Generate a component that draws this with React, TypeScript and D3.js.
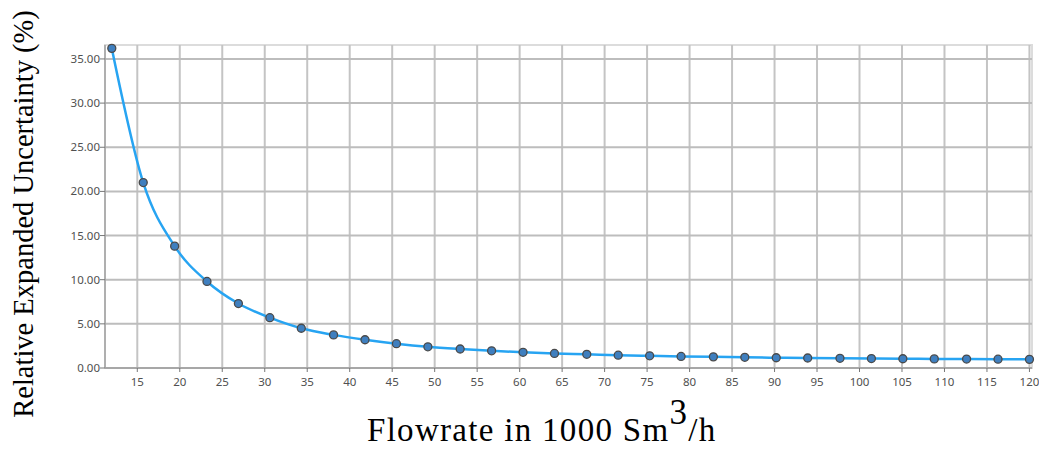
import React from "react";
import * as d3 from "d3";

const flowrates: number[] = [
  12, 15.7, 19.4, 23.2, 26.9, 30.6, 34.3, 38.1, 41.8, 45.5, 49.2, 53.0, 56.7, 60.4, 64.1,
  67.9, 71.6, 75.3, 79.0, 82.8, 86.5, 90.2, 93.9, 97.7, 101.4, 105.1, 108.8, 112.6, 116.3, 120,
];
const uncertainty: number[] = [
  36.2, 21.0, 13.8, 9.8, 7.3, 5.7, 4.5, 3.75, 3.2, 2.75, 2.4, 2.15, 1.95, 1.78, 1.65,
  1.55, 1.45, 1.38, 1.31, 1.26, 1.21, 1.16, 1.13, 1.1, 1.07, 1.05, 1.03, 1.01, 1.0, 0.98,
];
const xTicks: number[] = [15, 20, 25, 30, 35, 40, 45, 50, 55, 60, 65, 70, 75, 80, 85, 90, 95, 100, 105, 110, 115, 120];
const yTicks: number[] = [0, 5, 10, 15, 20, 25, 30, 35];
const xTitle = "Flowrate in 1000 Sm";
const xTitleSup = "3";
const xTitleEnd = "/h";
const yTitle = "Relative Expanded Uncertainty (%)";

const W = 1039;
const H = 449;
const left = 105;
const right = 1032;
const top = 45;
const bottom = 368;

export default function App() {
  const x = d3.scaleLinear().domain([11.2, 120.3]).range([left, right]);
  const y = d3.scaleLinear().domain([0, 36.58]).range([bottom, top]);
  const data = flowrates.map((f, i) => ({ f, u: uncertainty[i] }));
  const line = d3
    .line<{ f: number; u: number }>()
    .x((d) => x(d.f))
    .y((d) => y(d.u))
    .curve(d3.curveMonotoneX);

  const tickFont = "'Noto Sans', 'Open Sans', sans-serif";
  const serif = "'Liberation Serif', 'Times New Roman', serif";
  return (
    <svg width={W} height={H} style={{ position: "absolute", left: 0, top: 0, background: "#fff" }}>
      <rect x={left} y={top} width={right - left} height={bottom - top} fill="#fff" stroke="#dcdcdc" strokeWidth={2} />
      {xTicks.map((t) => (
        <line key={"gx" + t} x1={x(t)} x2={x(t)} y1={top} y2={bottom} stroke="#c4c4c4" strokeWidth={2} />
      ))}
      {yTicks.map((t) => (
        <line key={"gy" + t} x1={left} x2={right} y1={y(t)} y2={y(t)} stroke="#bdbdbd" strokeWidth={2} />
      ))}
      <line x1={left} x2={left} y1={top} y2={bottom} stroke="#a0a0a0" strokeWidth={1.5} />
      <line x1={left} x2={right} y1={bottom} y2={bottom} stroke="#a0a0a0" strokeWidth={1.5} />
      {yTicks.map((t) => (
        <g key={"ty" + t}>
          <line x1={left - 5} x2={left} y1={y(t)} y2={y(t)} stroke="#777" strokeWidth={1} />
          <text x={left - 5} y={y(t)} dy="0.35em" textAnchor="end" fontFamily={tickFont} fontSize={11.5} fill="#505050">
            {t.toFixed(2)}
          </text>
        </g>
      ))}
      {xTicks.map((t) => (
        <g key={"tx" + t}>
          <line x1={x(t)} x2={x(t)} y1={bottom} y2={bottom + 4} stroke="#777" strokeWidth={1} />
          <text x={x(t)} y={386} textAnchor="middle" fontFamily={tickFont} fontSize={11.5} fill="#505050">
            {t}
          </text>
        </g>
      ))}
      <path d={line(data) || ""} fill="none" stroke="#27a4f2" strokeWidth={2.5} />
      {data.map((d, i) => (
        <circle key={"p" + i} cx={x(d.f)} cy={y(d.u)} r={4} fill="#3f7fbf" stroke="#4a4a4a" strokeWidth={1.3} />
      ))}
      <text
        transform={`translate(33, 214) rotate(-90)`}
        textAnchor="middle"
        fontFamily={serif}
        fontSize={28.5}
        fill="#000"
      >
        {yTitle}
      </text>
      <text x={367} y={441} textAnchor="start" fontFamily={serif} fontSize={33} letterSpacing={1.3} fill="#000">
        {xTitle}
        <tspan fontSize={35} dy={-17}>{xTitleSup}</tspan>
        <tspan dy={17}>{xTitleEnd}</tspan>
      </text>
    </svg>
  );
}
